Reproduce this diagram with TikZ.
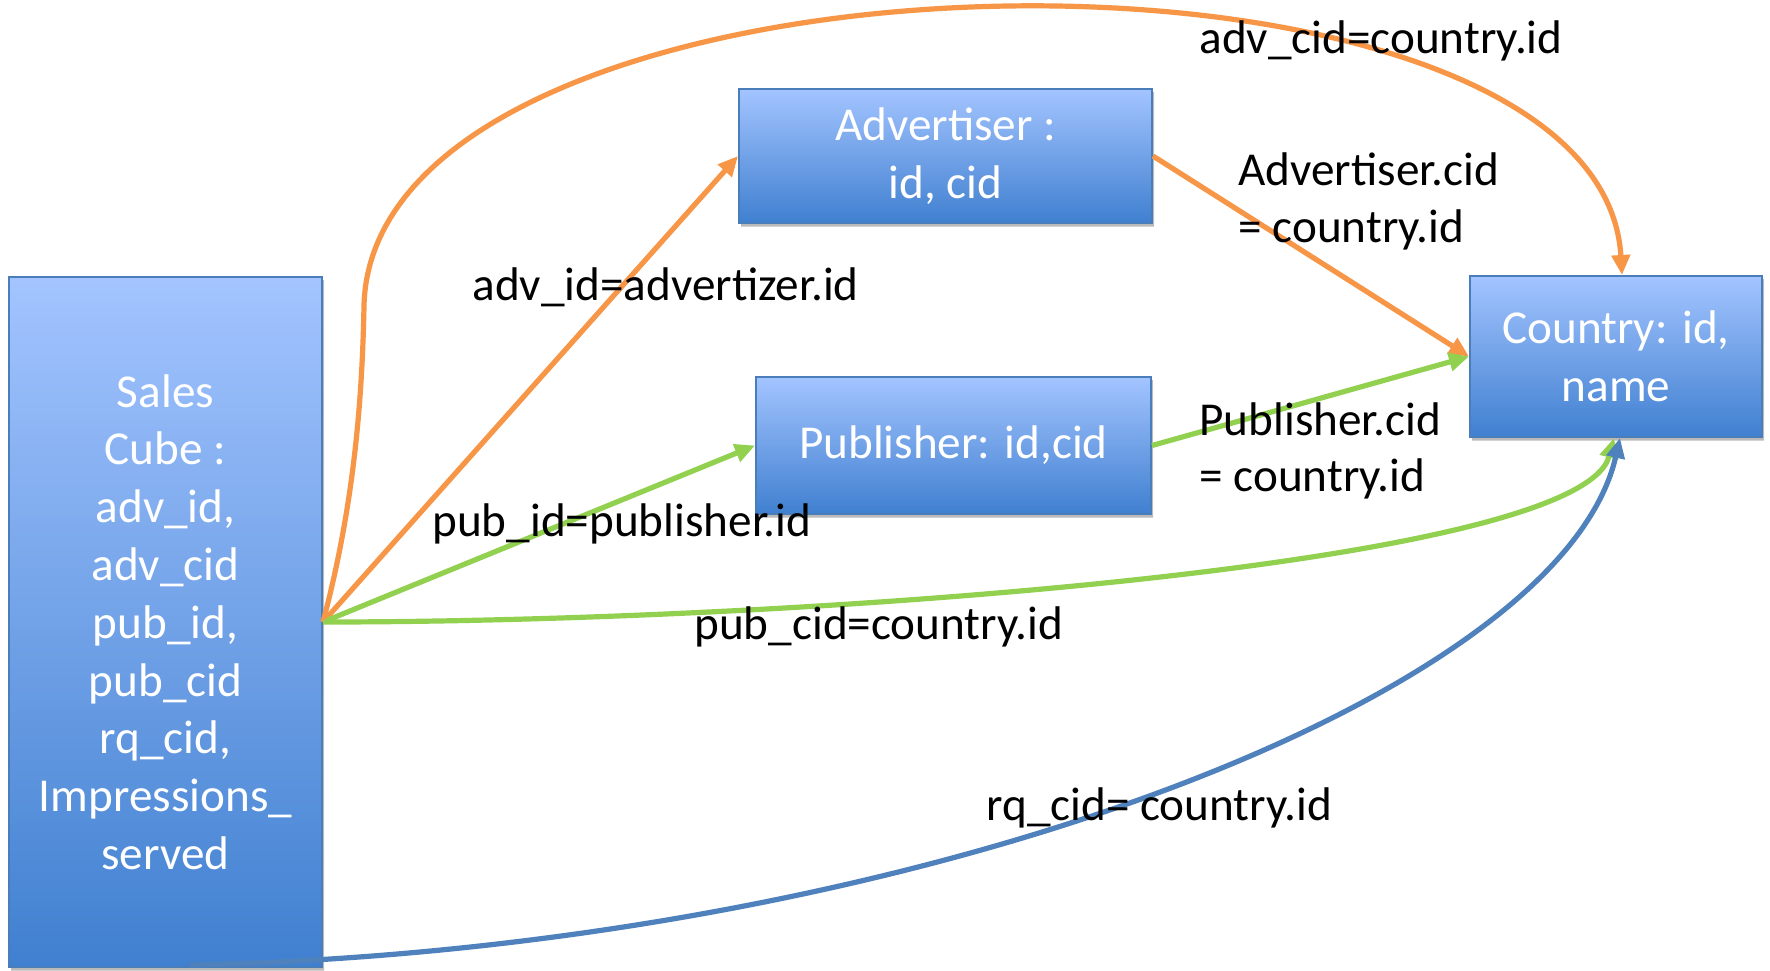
\documentclass[tikz,border=0pt]{standalone}
\usepackage{fontspec}
\setmainfont{Carlito}
\usetikzlibrary{arrows.meta,shadows}
\definecolor{boxtop}{HTML}{A3C4FF}
\definecolor{boxbot}{HTML}{4080D0}
\definecolor{boxline}{HTML}{4A7EBB}
\definecolor{lorange}{HTML}{F79646}
\definecolor{lgreen}{HTML}{92D050}
\definecolor{lblue}{HTML}{4F81BD}
\newcommand\dfont{\fontsize{23.6pt}{28.9pt}\selectfont}
\tikzset{
 box/.style={draw=boxline, line width=1pt, top color=boxtop, bottom color=boxbot, text=white, font=\dfont, align=center, inner sep=0pt,
   drop shadow={shadow xshift=1pt, shadow yshift=-1.5pt, opacity=0.25, top color=black!70, bottom color=black!70}},
 lbl/.style={font=\dfont, text=black, inner sep=0pt, anchor=base west},
 conn/.style={line width=2.6pt, -{Triangle[length=10pt,width=9pt]}},
}
\begin{document}
\begin{tikzpicture}[x=0.5pt,y=-0.5pt]
\useasboundingbox[fill=white] (0,0) rectangle (1770,970);
% boxes
\node[box, minimum width=156.5pt, minimum height=345pt] (sales) at (165.5,622)
  {Sales\\Cube :\\adv\_id,\\adv\_cid\\pub\_id,\\pub\_cid\\rq\_cid,\\Impressions\_\\served};
\node[box, minimum width=206.5pt, minimum height=67pt] (adv) at (945.5,156) {Advertiser :\\id, cid};
\node[box, minimum width=197.5pt, minimum height=68.5pt] (pub) at (953.5,445.5) {Publisher: id,cid};
\node[box, minimum width=146pt, minimum height=80.5pt] (country) at (1616,356.5) {Country: id,\\name};
\coordinate (bstart) at ([xshift=12pt,yshift=1.5pt]sales.south);
% connectors
\draw[conn, lorange] (sales.east) -- (adv.west);
\draw[conn, lgreen] (sales.east) -- (pub.west);
\draw[conn, lorange] (adv.east) -- (country.west);
\draw[conn, lgreen] (pub.east) -- (country.west);
\draw[conn, lorange] (sales.east) .. controls (350,520) and (362,420) .. (364,305)
   .. controls (375,-75) and (1600,-95) .. ([xshift=3pt]country.north);
\draw[conn, lgreen] (sales.east) .. controls (800,622) and (1580,565) .. ([xshift=-1pt]country.south);
\draw[conn, lblue] (bstart) .. controls (900,950) and (1560,700) .. ([xshift=2pt]country.south);
% labels
\node[lbl] (l1) at (1199,53) {adv\_cid=country.id};
\node[lbl] (l2a) at (1238,185.5) {Advertiser.cid};
\node[lbl] (l2b) at (1238,242) {= country.id};
\node[lbl] (l3) at (472,300) {adv\_id=advertizer.id};
\node[lbl] (l4a) at (1199,435.5) {Publisher.cid};
\node[lbl] (l4b) at (1199,491) {= country.id};
\node[lbl] (l5) at (432,536) {pub\_id=publisher.id};
\node[lbl] (l6) at (694,639) {pub\_cid=country.id};
\node[lbl] (l7) at (986,820) {rq\_cid= country.id};
\end{tikzpicture}
\end{document}
